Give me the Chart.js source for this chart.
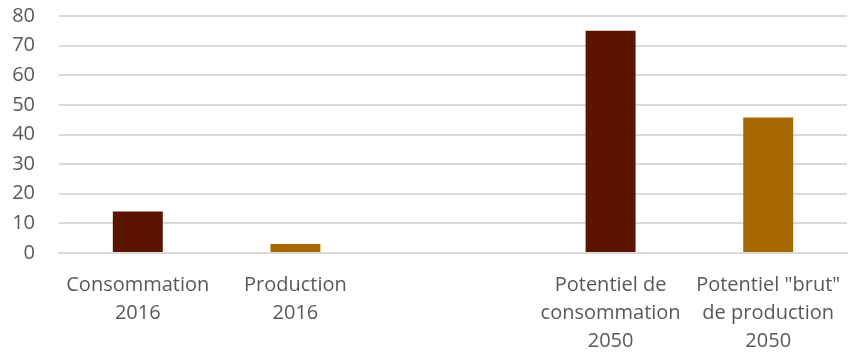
<!DOCTYPE html>
<html>
<head>
<meta charset="utf-8">
<script src="https://cdn.jsdelivr.net/npm/chart.js@4.4.1/dist/chart.umd.min.js"></script>
<style>
  html, body { margin: 0; padding: 0; background: #fff; }
  #wrap { width: 848px; height: 356px; position: relative; }
</style>
</head>
<body>
<div id="wrap"><canvas id="chart"></canvas></div>
<script>
// catégories (une vide pour l'espace entre 2016 et 2050)
const categories = [
    ['Consommation', '2016'],
    ['Production', '2016'],
    '',
    ['Potentiel de', 'consommation', '2050'],
    ['Potentiel "brut"', 'de production', '2050']
];
const values = [14, 3, null, 75, 45.7];
const barColors = ['#5a1400', '#a66900', '#5a1400', '#5a1400', '#a66900'];
const yTicks = { min: 0, max: 80, step: 10 };

// pas de marge automatique autour des axes
function noPadding(scale) {
    scale.paddingTop = 0;
    scale.paddingBottom = 0;
    scale.paddingLeft = 0;
    scale.paddingRight = 0;
}

const ctx = document.getElementById('chart').getContext('2d');
const chart = new Chart(ctx, {
    type: 'bar',
    data: {
        labels: categories,
        datasets: [{
            data: values,
            backgroundColor: barColors,
            borderWidth: 0,
            categoryPercentage: 1,
            barPercentage: 0.317
        }]
    },
    options: {
        responsive: true,
        maintainAspectRatio: false,
        animation: false,
        layout: { padding: { top: 16, right: 1, left: 0, bottom: 0 } },
        plugins: {
            legend: { display: false },
            tooltip: { enabled: false }
        },
        scales: {
            x: {
                grid: { display: false, drawTicks: false },
                border: { display: true, color: '#d9d9d9', width: 2 },
                ticks: {
                    color: '#595959',
                    font: { family: 'Open Sans', size: 20, lineHeight: 1.4 },
                    padding: 18,
                    maxRotation: 0,
                    autoSkip: false
                },
                afterFit: (scale) => { scale.height = 103; noPadding(scale); }
            },
            y: {
                min: yTicks.min,
                max: yTicks.max,
                grid: { color: '#d9d9d9', lineWidth: 2, drawTicks: false },
                border: { display: false },
                ticks: {
                    stepSize: yTicks.step,
                    autoSkip: false,
                    color: '#595959',
                    font: { family: 'Open Sans', size: 20, lineHeight: 1 },
                    padding: 24
                },
                afterFit: (scale) => { scale.width = 59; noPadding(scale); }
            }
        }
    }
});
</script>
</body>
</html>
